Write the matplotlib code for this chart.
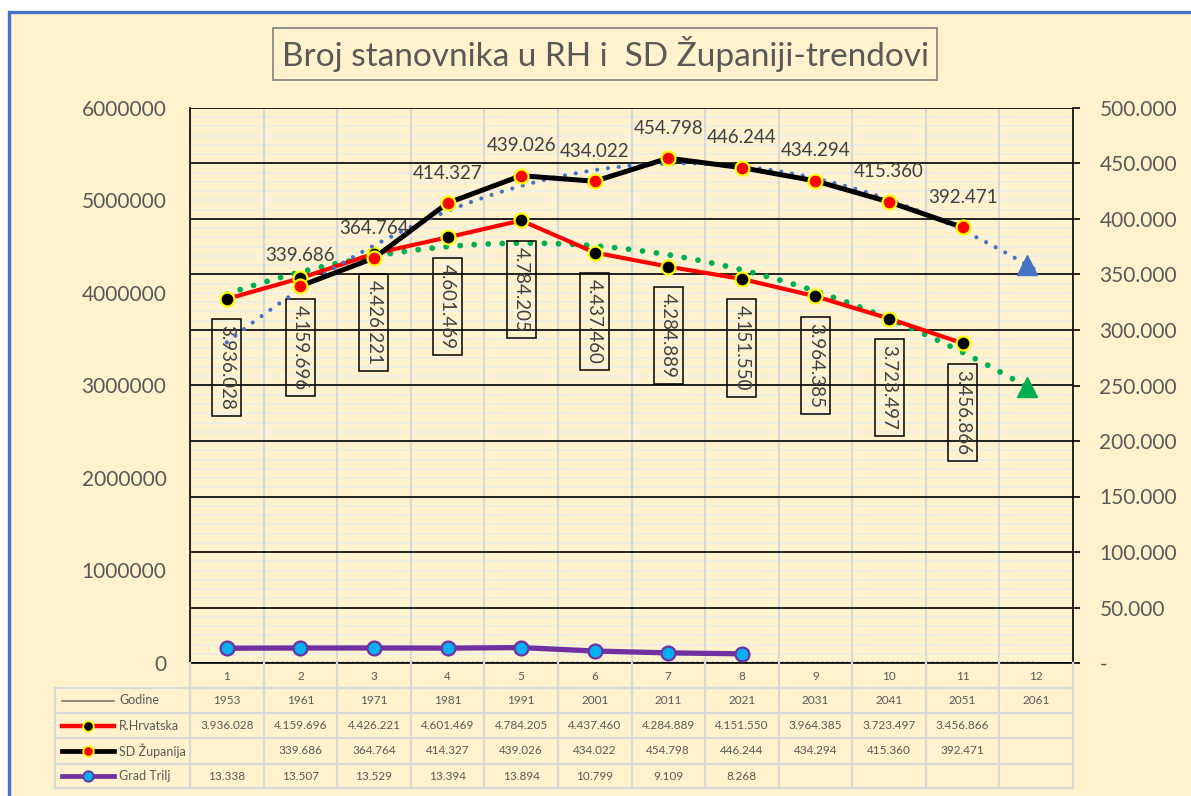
import numpy as np
import matplotlib
matplotlib.use("Agg")
import matplotlib.pyplot as plt
from matplotlib.patches import Rectangle
from matplotlib.lines import Line2D
from matplotlib.transforms import blended_transform_factory

plt.rcParams['font.family'] = ['Lato', 'DejaVu Sans']

# data
kategorije = list(range(1, 13))
godine = [1953, 1961, 1971, 1981, 1991, 2001, 2011, 2021, 2031, 2041, 2051, 2061]
hrvatska = [3936028, 4159696, 4426221, 4601469, 4784205, 4437460, 4284889,
            4151550, 3964385, 3723497, 3456866, np.nan]
zupanija = [np.nan, 339686, 364764, 414327, 439026, 434022, 454798,
            446244, 434294, 415360, 392471, np.nan]
trilj = [13338, 13507, 13529, 13394, 13894, 10799, 9109, 8268,
         np.nan, np.nan, np.nan, np.nan]
naslov = "Broj stanovnika u RH i  SD Županiji-trendovi"

W, H = 1191, 796
CREAM = '#FFF2CC'
GRAY_TXT = '#595959'
GRID_LIGHT = '#D9D9D9'

def fx(px):
    return px / W

def fy(py):
    return 1 - py / H

def fmt_hr(v):
    if np.isnan(v):
        return ''
    return f"{int(v):,}".replace(",", ".")

fig = plt.figure(figsize=(W / 100, H / 100), dpi=100, facecolor='white')
fig.patches.append(Rectangle((fx(9), -0.1), 1.2, fy(12) + 0.1, transform=fig.transFigure,
                             facecolor=CREAM, edgecolor='#4472C4', lw=2.4, zorder=-10))

ax = fig.add_axes([fx(190), fy(663), fx(1073) - fx(190), fy(108) - fy(663)])
ax.patch.set_alpha(0)
ax2 = ax.twinx()
ax2.patch.set_alpha(0)

x = np.array(kategorije, dtype=float)
hr = np.array(hrvatska, dtype=float)
sd = np.array(zupanija, dtype=float)
tr = np.array(trilj, dtype=float)
god = np.array(godine, dtype=float)

LMAX, RMAX = 6000000, 500000
ax.set_xlim(0.5, 12.5)
ax.set_ylim(0, LMAX)
ax2.set_ylim(0, RMAX)

# gridlines (drawn on the lower axes so that series stay on top)
for v in np.arange(0, LMAX + 1, 100000):
    ax.axhline(v, color='#ECECEC', lw=1.1, zorder=0.5)
for v in np.arange(0, RMAX + 1, 50000):
    ax.axhline(v * LMAX / RMAX, color='black', lw=1.2, zorder=0.6)
for k in np.arange(0.5, 13, 1):
    ax.axvline(k, color=GRID_LIGHT, lw=1.6, zorder=0.55)

# Godine series (close to zero) and its trend
ax.plot(x, god, color='#7f7766', lw=1.0, zorder=1)
pg = np.polyfit(x, god, 1)
ax.plot(x, np.polyval(pg, x), color='#4472C4', lw=1.8, ls=(0, (0.6, 1.4)), zorder=1.1)

# trendlines (2nd order polynomial, forecast one period)
xs = np.linspace(1, 12, 200)
ok = ~np.isnan(hr)
p_hr = np.polyfit(x[ok], hr[ok], 2)
ax.plot(xs, np.polyval(p_hr, xs), color='#00B050', lw=4.2, ls=(0, (0.01, 2.4)),
        dash_capstyle='round', zorder=2)
ax.plot([11.88], [np.polyval(p_hr, 11.88)], marker='^', color='#00B050', ms=15, zorder=2)

# R.Hrvatska
ax.plot(x, hr, color='red', lw=3.0, marker='o', ms=10, mfc='black', mec='#FFFF00',
        mew=1.6, zorder=3)
for xi, v in zip(x, hr):
    if np.isnan(v):
        continue
    ax.annotate(fmt_hr(v), (xi, v), xytext=(0, -69), textcoords='offset pixels',
                rotation=-90, ha='center', va='center', fontsize=13.5, color='#404040',
                bbox=dict(boxstyle='square,pad=0.32', fc='none', ec='black', lw=1.1),
                zorder=4)

ok = ~np.isnan(sd)
p_sd = np.polyfit(x[ok], sd[ok], 2)
ax2.plot(xs, np.polyval(p_sd, xs), color='#4472C4', lw=3.0, ls=(0, (0.01, 2.6)),
         dash_capstyle='round', zorder=2)
ax2.plot([11.88], [np.polyval(p_sd, 11.88)], marker='^', color='#4472C4', ms=14, zorder=2)

# SD Županija
ax2.plot(x, sd, color='black', lw=3.6, marker='o', ms=10, mfc='red', mec='#FFFF00',
         mew=1.6, zorder=3)
for xi, v in zip(x, sd):
    if np.isnan(v):
        continue
    ax2.annotate(fmt_hr(v), (xi, v), xytext=(0, 30), textcoords='offset pixels',
                 ha='center', va='center', fontsize=13.5, color='#404040', zorder=4)

# Grad Trilj
ax2.plot(x, tr, color='#7030A0', lw=3.8, marker='o', ms=10, mfc='#00B0F0', mec='#7030A0',
         mew=1.6, zorder=3)

# axes styling
for a in (ax, ax2):
    a.spines['top'].set_visible(False)
    a.set_xticks([])
ax.spines['left'].set_linewidth(1.2)
ax.spines['bottom'].set_linewidth(1.2)
ax.spines['right'].set_visible(False)
ax2.spines['left'].set_visible(False)
ax2.spines['bottom'].set_visible(False)
ax2.spines['right'].set_linewidth(1.2)

ax.set_yticks(np.arange(0, LMAX + 1, 1000000))
ax.set_yticklabels([f"{int(v)}" for v in np.arange(0, LMAX + 1, 1000000)])
ax.tick_params(axis='y', length=0, pad=17, labelsize=15, labelcolor=GRAY_TXT)
rt = np.arange(0, RMAX + 1, 50000)
ax2.set_yticks(rt)
ax2.set_yticklabels(['-' if v == 0 else fmt_hr(v) for v in rt])
ax2.tick_params(axis='y', length=5, width=1.2, pad=14, labelsize=15, labelcolor=GRAY_TXT)

# title
fig.text(fx(605), fy(54), naslov, ha='center', va='center', fontsize=24, color=GRAY_TXT,
         bbox=dict(boxstyle='square,pad=0.25', fc='none', ec='#7f7f7f', lw=1.2))

# data table below the plot
rows_y = [663, 688, 713, 738, 764, 788]
tr_x = blended_transform_factory(ax.transData, fig.transFigure)
lc = GRID_LIGHT
lw_t = 1.6
fig.add_artist(Line2D([fx(190), fx(1073)], [fy(688), fy(688)], color=lc, lw=lw_t))
for yy in rows_y[1:]:
    fig.add_artist(Line2D([fx(55), fx(1073)], [fy(yy), fy(yy)], color=lc, lw=lw_t))
for k in np.arange(0.5, 13, 1):
    fig.add_artist(Line2D([k, k], [fy(663), fy(788)], color=lc, lw=lw_t, transform=tr_x))
fig.add_artist(Line2D([fx(55), fx(55)], [fy(688), fy(788)], color=lc, lw=lw_t))

tfs = 8.5
for xi in kategorije:
    fig.text(xi, fy(676), str(xi), transform=tr_x, ha='center', va='center',
             fontsize=tfs, color=GRAY_TXT)
serije = [
    ('Godine', [str(g) for g in godine]),
    ('R.Hrvatska', [fmt_hr(v) for v in hr]),
    ('SD Županija', [fmt_hr(v) for v in sd]),
    ('Grad Trilj', [fmt_hr(v) for v in tr]),
]
kljucevi = [
    ('#7f7766', 1.2, None, None),
    ('red', 3.2, 'black', '#FFFF00'),
    ('black', 3.4, 'red', '#FFFF00'),
    ('#7030A0', 3.4, '#00B0F0', '#7030A0'),
]
for i, ((naziv, vals), (lcol, llw, mfc, mec)) in enumerate(zip(serije, kljucevi)):
    yc = (rows_y[i + 1] + rows_y[i + 2]) / 2
    fig.add_artist(Line2D([fx(62), fx(114)], [fy(yc), fy(yc)], color=lcol, lw=llw))
    if mfc is not None:
        fig.add_artist(Line2D([fx(88)], [fy(yc)], marker='o', ms=7.5, mfc=mfc,
                              mec=mec, mew=1.3, lw=0))
    fig.text(fx(119), fy(yc), naziv, ha='left', va='center', fontsize=tfs + 0.5,
             color=GRAY_TXT)
    for xi, t in zip(kategorije, vals):
        fig.text(xi, fy(yc), t, transform=tr_x, ha='center', va='center',
                 fontsize=tfs, color=GRAY_TXT)

fig.savefig('out.png', dpi=100, facecolor=fig.get_facecolor())
